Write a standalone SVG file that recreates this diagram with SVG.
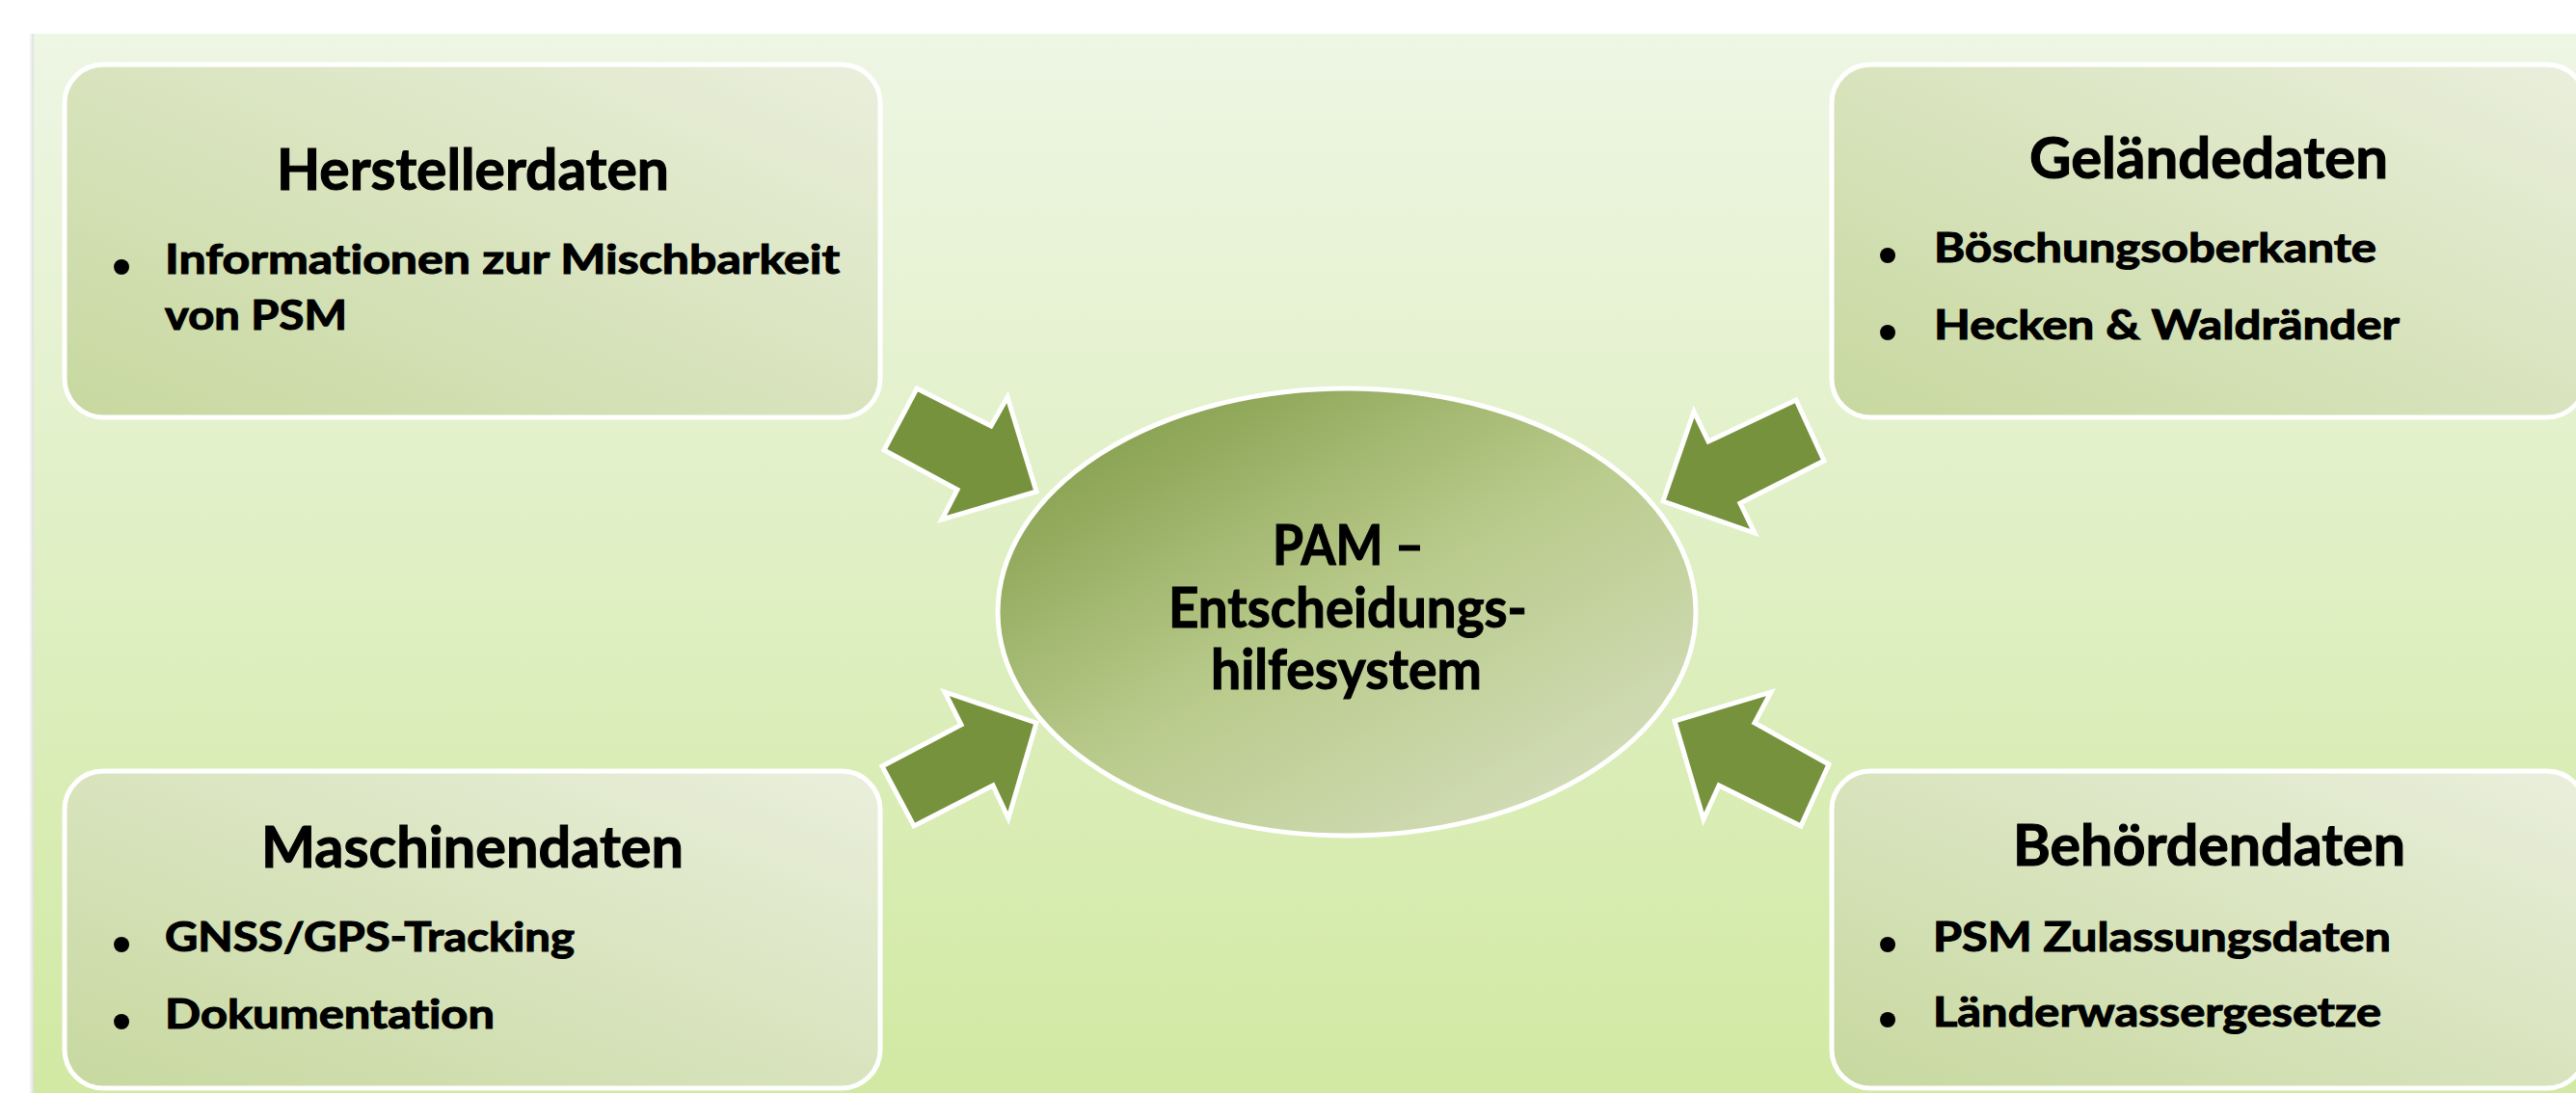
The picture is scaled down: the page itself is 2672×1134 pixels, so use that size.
<svg xmlns="http://www.w3.org/2000/svg" width="2672" height="1134" viewBox="0 0 2672 1134">
  <defs>
    <linearGradient id="panelFill" x1="0" y1="0" x2="0" y2="1">
      <stop offset="0" stop-color="#eef6e4"/>
      <stop offset="1" stop-color="#d1e9a3"/>
    </linearGradient>
    <linearGradient id="panelShadow" x1="0" y1="0" x2="1" y2="0">
      <stop offset="0" stop-color="#000" stop-opacity="0"/>
      <stop offset="1" stop-color="#000" stop-opacity="0.13"/>
    </linearGradient>
    <linearGradient id="boxFill" x1="0" y1="1" x2="1" y2="0">
      <stop offset="0" stop-color="#c7d89f"/>
      <stop offset="1" stop-color="#eaefdc"/>
    </linearGradient>
    <linearGradient id="hubFill" x1="0.12" y1="0.08" x2="0.88" y2="0.92">
      <stop offset="0" stop-color="#869f4d"/>
      <stop offset="0.5" stop-color="#b9cb8c"/>
      <stop offset="1" stop-color="#d4ddba"/>
    </linearGradient>
    <style>
      .box { fill: url(#boxFill); stroke: #ffffff; stroke-width: 5; }
      .hub { fill: url(#hubFill); stroke: #ffffff; stroke-width: 5; }
      .arrow { fill: #77923c; stroke: #ffffff; stroke-width: 5; stroke-linejoin: miter; }
      text { font-family: "Lato", "Liberation Sans", sans-serif; font-weight: bold; fill: #000000;
             stroke: #000000; stroke-width: 1.1px; font-variant-ligatures: none; }
      .title { font-size: 59px; }
      .item { font-size: 42px; }
      .bullet { font-family: "Liberation Sans", sans-serif; font-size: 56px; stroke: none; }
      .hubtext { font-size: 57px; }
    </style>
  </defs>

  <!-- page and backdrop panel -->
  <g id="background">
    <rect x="0" y="0" width="2672" height="1134" fill="#ffffff"/>
    <rect x="30" y="35" width="5" height="1099" fill="url(#panelShadow)"/>
    <rect x="35" y="35" width="2637" height="1099" fill="url(#panelFill)"/>
  </g>

  <!-- inbound arrows towards the hub -->
  <g id="connectors">
    <polygon class="arrow" points="951,403 1028,442 1045,412 1075,510 977,539 993,508 917,467"/>
    <polygon class="arrow" points="1863,415 1772,458 1757,427 1725,520 1820,553 1805,522 1892,478"/>
    <polygon class="arrow" points="915,795 997,752 980,718 1075,750 1046,849 1030,815 948,857"/>
    <polygon class="arrow" points="1897,793 1820,750 1837,718 1737,748 1767,850 1783,815 1868,857"/>
  </g>

  <g id="node-herstellerdaten">
    <rect class="box" x="67" y="67" width="846" height="366" rx="40" ry="40"/>
    <text class="title" x="287" y="197" textLength="407" lengthAdjust="spacingAndGlyphs">Herstellerdaten</text>
    <text class="bullet" x="126" y="295" text-anchor="middle">•</text>
    <text class="item" x="171" y="284" textLength="700" lengthAdjust="spacingAndGlyphs">Informationen zur Mischbarkeit</text>
    <text class="item" x="171" y="342" textLength="189" lengthAdjust="spacingAndGlyphs">von PSM</text>
  </g>

  <g id="node-gelaendedaten">
    <rect class="box" x="1900" y="67" width="782" height="366" rx="40" ry="40"/>
    <text class="title" x="2105" y="185" textLength="372" lengthAdjust="spacingAndGlyphs">Geländedaten</text>
    <text class="bullet" x="1958" y="283" text-anchor="middle">•</text>
    <text class="item" x="2006" y="272" textLength="459" lengthAdjust="spacingAndGlyphs">Böschungsoberkante</text>
    <text class="bullet" x="1958" y="363" text-anchor="middle">•</text>
    <text class="item" x="2006" y="352" textLength="483" lengthAdjust="spacingAndGlyphs">Hecken &amp; Waldränder</text>
  </g>

  <g id="node-maschinendaten">
    <rect class="box" x="67" y="800" width="846" height="329" rx="40" ry="40"/>
    <text class="title" x="271" y="900" textLength="438" lengthAdjust="spacingAndGlyphs">Maschinendaten</text>
    <text class="bullet" x="126" y="998" text-anchor="middle">•</text>
    <text class="item" x="171" y="987" textLength="425" lengthAdjust="spacingAndGlyphs">GNSS/GPS-Tracking</text>
    <text class="bullet" x="126" y="1078" text-anchor="middle">•</text>
    <text class="item" x="171" y="1067" textLength="342" lengthAdjust="spacingAndGlyphs">Dokumentation</text>
  </g>

  <g id="node-behoerdendaten">
    <rect class="box" x="1900" y="800" width="782" height="329" rx="40" ry="40"/>
    <text class="title" x="2088" y="898" textLength="407" lengthAdjust="spacingAndGlyphs">Behördendaten</text>
    <text class="bullet" x="1958" y="998" text-anchor="middle">•</text>
    <text class="item" x="2005" y="987" textLength="475" lengthAdjust="spacingAndGlyphs">PSM Zulassungsdaten</text>
    <text class="bullet" x="1958" y="1076" text-anchor="middle">•</text>
    <text class="item" x="2005" y="1065" textLength="465" lengthAdjust="spacingAndGlyphs">Länderwassergesetze</text>
  </g>

  <g id="node-pam">
    <ellipse class="hub" cx="1397" cy="635" rx="362" ry="232"/>
    <text class="hubtext" x="1320" y="586" textLength="157" lengthAdjust="spacingAndGlyphs">PAM –</text>
    <text class="hubtext" x="1212" y="651" textLength="372" lengthAdjust="spacingAndGlyphs">Entscheidungs-</text>
    <text class="hubtext" x="1256" y="715" textLength="281" lengthAdjust="spacingAndGlyphs">hilfesystem</text>
  </g>
</svg>
